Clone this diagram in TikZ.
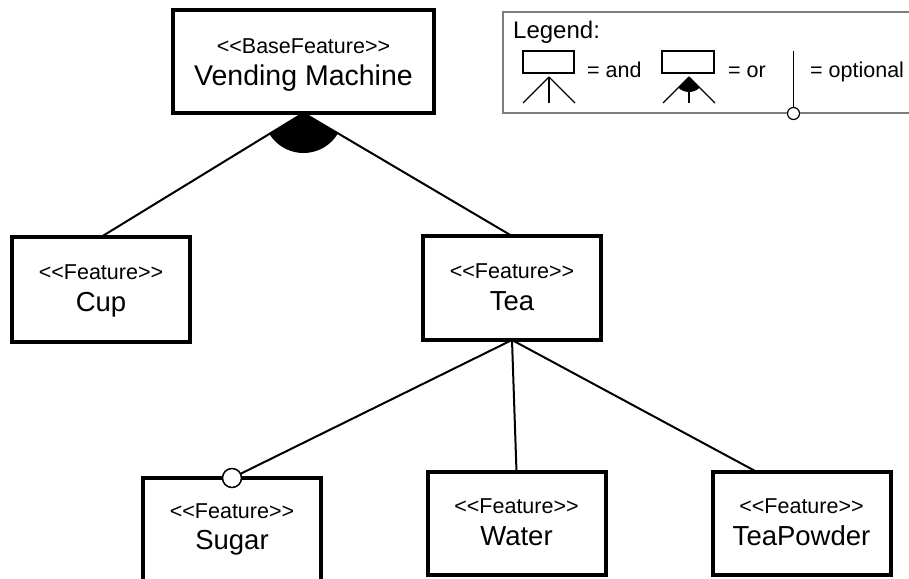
\documentclass[tikz,border=0pt]{standalone}
\usepackage{fontspec}
\setmainfont{Liberation Sans}
% guillemet-free stereotype brackets
\newcommand{\opst}{<\kern0pt<}
\newcommand{\clst}{>\kern0pt>}
\definecolor{legframe}{RGB}{125,125,125}
\begin{document}
\begin{tikzpicture}[x=1pt,y=-1pt,
  featbox/.style={draw, rectangle, line width=4pt, minimum width=178pt,
    minimum height=103pt, inner sep=0pt, outer sep=0pt, anchor=north},
  stereo/.style={font=\fontsize{21.5}{24}\selectfont, anchor=base, inner sep=0pt},
  fname/.style={font=\fontsize{27.5}{30}\selectfont, anchor=base, inner sep=0pt},
  conn/.style={line width=2pt},
  optmark/.style={circle, draw, fill=white, line width=1.5pt,
    minimum size=19pt, inner sep=0pt, outer sep=0pt},
  legtext/.style={font=\fontsize{21.5}{24}\selectfont, anchor=base west, inner sep=0pt},
  legline/.style={line width=1.2pt},
]
\useasboundingbox (0,0) rectangle (909,578);
\clip (0,0) rectangle (909,578);

% feature boxes
\node[featbox, minimum width=261pt] (vm) at (303.5,10) {};
\node[featbox, minimum height=105pt] (cup) at (101,237) {};
\node[featbox, minimum height=104pt] (tea) at (512,236) {};
\node[featbox] (sugar) at (232,478) {};
\node[featbox] (water) at (516.5,472) {};
\node[featbox] (tp) at (801.5,472) {};

% box labels
\node[stereo] (vm-st) at ([yshift=-43pt]vm.north) {\opst BaseFeature\clst};
\node[fname, font=\fontsize{28.5}{30}\selectfont] (vm-nm) at ([yshift=-75pt]vm.north) {Vending Machine};
\node[stereo] (cup-st) at ([yshift=-42pt]cup.north) {\opst Feature\clst};
\node[fname]  (cup-nm) at ([yshift=-74pt]cup.north) {Cup};
\node[stereo] (tea-st) at ([yshift=-42pt]tea.north) {\opst Feature\clst};
\node[fname]  (tea-nm) at ([yshift=-74pt]tea.north) {Tea};
\node[stereo] (sugar-st) at ([yshift=-40pt]sugar.north) {\opst Feature\clst};
\node[fname]  (sugar-nm) at ([yshift=-71pt]sugar.north) {Sugar};
\node[stereo] (water-st) at ([yshift=-41pt]water.north) {\opst Feature\clst};
\node[fname]  (water-nm) at ([yshift=-73pt]water.north) {Water};
\node[stereo] (tp-st) at ([yshift=-41pt]tp.north) {\opst Feature\clst};
\node[fname]  (tp-nm) at ([yshift=-73pt]tp.north) {TeaPowder};

% or-group below the root
\draw[conn] (vm.south) -- (cup.north);
\draw[conn] (vm.south) -- (tea.north);
\begin{scope}
  \clip (vm.south) -- (cup.north) -- (tea.north) -- cycle;
  \fill (vm.south) circle[radius=40];
\end{scope}

% and-group below Tea
\coordinate (tp-in) at ([xshift=-44.5pt]tp.north);
\draw[conn] (tea.south) -- (water.north);
\draw[conn] (tea.south) -- (tp-in);
\node[optmark] (sugar-opt) at (sugar.north) {};
\draw[conn] (tea.south) -- (sugar-opt);

% legend
\draw[draw=legframe, line width=1.6pt] (503,12) rectangle (915,113);
\node[anchor=base west, inner sep=0pt, font=\fontsize{24}{26}\selectfont] (leg-title) at (513,38) {Legend:};

\draw[legline] (523,51) rectangle (574,73);
\coordinate (and-top) at (549,77);
\draw[legline] (and-top) -- (523,103);
\draw[legline] (and-top) -- (549,103);
\draw[legline] (and-top) -- (575,103);
\node[legtext] (leg-and) at (587,77) {= and};

\draw[legline] (662,51) rectangle (714,73);
\coordinate (or-top) at (689,77);
\draw[legline] (or-top) -- (663,103);
\draw[legline] (or-top) -- (689,103);
\draw[legline] (or-top) -- (715,103);
\begin{scope}
  \clip (or-top) -- (663,103) -- (715,103) -- cycle;
  \fill (or-top) circle[radius=15];
\end{scope}
\node[legtext] (leg-or) at (728,77) {= or};

\coordinate (opt-top) at (793.5,51);
\coordinate (opt-end) at (793.5,113.5);
\draw[legline] (opt-top) -- (793.5,107.5);
\draw[legline, fill=white] (opt-end) circle[radius=6];
\node[legtext] (leg-opt) at (810,77) {= optional};
\end{tikzpicture}
\end{document}
